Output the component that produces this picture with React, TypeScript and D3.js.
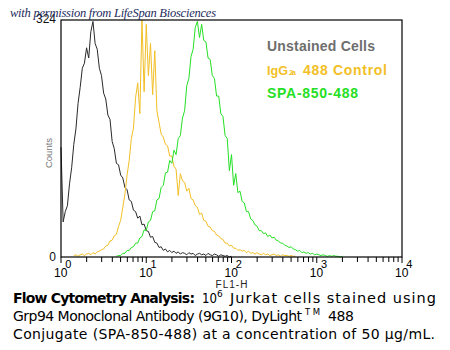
import React, { useEffect, useRef } from "react";
import * as d3 from "d3";

// histogram channels: each channel is 0.025 decade wide on FL1-H
const binWidth = 0.025;

const unstainedStart = 0;
const unstainedCounts = [150, 48, 62, 70, 100, 122, 154, 175, 210, 232, 258, 265, 286, 272, 308, 322, 292, 284, 258, 248, 224, 216, 194, 188, 158, 148, 128, 126, 112, 108, 95, 92, 78, 76, 64, 62, 53, 56, 44, 45, 36, 35, 27, 28, 20, 19, 13, 14, 9, 11, 7, 9, 6, 8, 5, 7, 4, 6, 5, 3, 6, 4, 5, 2, 4, 5, 3, 4, 2, 5, 3, 2, 4, 3, 1, 3, 2, 1, 2, 0, 1];

const isotypeStart = 6;
const isotypeCounts = [2, 3, 1, 3, 4, 2, 4, 5, 3, 6, 4, 7, 8, 10, 11, 15, 16, 22, 23, 29, 31, 42, 50, 68, 86, 112, 132, 162, 176, 218, 238, 196, 324, 226, 318, 248, 292, 222, 282, 200, 184, 168, 164, 154, 152, 138, 138, 124, 120, 84, 114, 104, 102, 90, 94, 80, 78, 70, 68, 58, 60, 50, 49, 42, 41, 36, 35, 30, 29, 25, 24, 19, 19, 15, 16, 12, 12, 9, 10, 8, 9, 6, 8, 5, 6, 4, 6, 4, 3, 5, 3, 4, 2, 3, 4, 2, 3, 1, 3, 2, 2, 1, 2, 1, 1];

const stainedStart = 26;
const stainedCounts = [1, 2, 2, 5, 5, 9, 9, 13, 14, 19, 19, 26, 28, 37, 36, 48, 50, 62, 63, 78, 80, 95, 98, 115, 116, 132, 128, 146, 140, 162, 166, 190, 200, 234, 244, 274, 284, 314, 322, 300, 318, 296, 294, 272, 270, 248, 244, 220, 220, 196, 192, 166, 162, 118, 140, 98, 114, 88, 90, 76, 74, 62, 62, 52, 50, 44, 42, 36, 36, 32, 33, 28, 30, 26, 27, 23, 22, 19, 19, 16, 15, 13, 14, 11, 10, 8, 9, 6, 7, 5, 6, 4, 5, 3, 4, 3, 2, 3, 2, 1, 2, 1, 2, 1, 1, 0, 1];

const decades = [0, 1, 2, 3, 4];
const yMax = 324;

const series = [
  { name: "Unstained Cells", start: unstainedStart, counts: unstainedCounts, color: "#2a2a2a" },
  { name: "IgG2a 488 Control", start: isotypeStart, counts: isotypeCounts, color: "#f2bf26" },
  { name: "SPA-850-488", start: stainedStart, counts: stainedCounts, color: "#25e025" },
];

function App() {
  const chartRef = useRef<SVGSVGElement>(null);

  useEffect(() => {
    drawChart();
  }, []);

  const drawChart = () => {
    const svg = d3.select(chartRef.current);
    svg.selectAll("*").remove();

    const left = 61, right = 402, top = 20, bottom = 257;

    const x = d3.scaleLog().domain([1, 10000]).range([left, right]);
    const y = d3.scaleLinear().domain([0, yMax]).range([bottom, top]);

    // fixed-width text piece
    const piece = (
      txt: string, px: number, py: number, w: number, size: number,
      font: string, color: string, weight = "normal", adjust = "spacing"
    ) =>
      svg
        .append("text")
        .text(txt)
        .attr("x", px)
        .attr("y", py)
        .attr("textLength", w)
        .attr("lengthAdjust", adjust)
        .style("font-family", font)
        .style("font-size", `${size}px`)
        .style("font-weight", weight)
        .attr("fill", color);

    // histograms
    series.forEach((s) => {
      const pts = s.counts.map((c, i) => [Math.pow(10, (s.start + i) * binWidth), c]);
      svg
        .append("path")
        .attr(
          "d",
          d3
            .line<number[]>()
            .x((d) => x(d[0]))
            .y((d) => y(d[1]))(pts)
        )
        .attr("fill", "none")
        .attr("stroke", s.color)
        .attr("stroke-width", 1);
    });

    // frame
    svg
      .append("rect")
      .attr("x", left)
      .attr("y", top)
      .attr("width", right - left)
      .attr("height", bottom - top)
      .attr("fill", "none")
      .attr("stroke", "#000")
      .attr("stroke-width", 1.2);

    // x ticks
    const minor: number[] = [];
    decades.slice(0, -1).forEach((d) => {
      for (let k = 1; k < 10; k++) minor.push(k * Math.pow(10, d));
    });
    minor.push(10000);
    svg
      .append("g")
      .selectAll("line")
      .data(minor)
      .join("line")
      .attr("x1", (d) => x(d))
      .attr("x2", (d) => x(d))
      .attr("y1", bottom)
      .attr("y2", (d) => bottom + (Math.log10(d) % 1 === 0 ? 6 : 5))
      .attr("stroke", "#000")
      .attr("stroke-width", 1);

    const tickLabels = svg
      .append("g")
      .selectAll("text")
      .data(decades)
      .join("text")
      .attr("x", (d) => x(Math.pow(10, d)) - 7)
      .attr("y", 277)
      .style("font-family", "'Liberation Sans', Arial, sans-serif")
      .style("font-size", "12px")
      .attr("fill", "#000");
    tickLabels.append("tspan").text("10");
    tickLabels
      .append("tspan")
      .text((d) => String(d))
      .attr("dx", -2)
      .attr("dy", -9)
      .style("font-size", "11px");

    svg
      .append("text")
      .text("FL1-H")
      .attr("x", 232)
      .attr("y", 288)
      .attr("text-anchor", "middle")
      .style("font-family", "'Liberation Sans', Arial, sans-serif")
      .style("font-size", "10px")
      .style("letter-spacing", "1px")
      .attr("fill", "#222");

    // y labels
    [0, yMax].forEach((v) => {
      svg
        .append("text")
        .text(String(v))
        .attr("x", 56)
        .attr("y", v === 0 ? y(v) + 4 : y(v) + 3)
        .attr("text-anchor", "end")
        .style("font-family", "'Liberation Sans', Arial, sans-serif")
        .style("font-size", "12px")
        .attr("fill", "#111");
    });

    svg
      .append("text")
      .text("Counts")
      .attr("transform", `translate(52,153) rotate(-90)`)
      .attr("text-anchor", "middle")
      .style("font-family", "'Liberation Sans', Arial, sans-serif")
      .style("font-size", "9.5px")
      .attr("fill", "#777");

    // watermark (drawn over the plot like in the source image)
    piece("with permission from LifeSpan Biosciences", 10, 17, 206, 12.5,
      "'Liberation Serif', serif", "#1d2b5e").style("font-style", "italic");

    // legend
    const legendFont = "'Liberation Sans', Arial, sans-serif";
    piece(series[0].name, 267, 51, 108, 14, legendFont, "#6e6e6e", "bold");
    piece("IgG", 267, 75, 21, 13.5, legendFont, series[1].color, "bold", "spacingAndGlyphs");
    piece("2a", 289, 75, 7, 8, legendFont, series[1].color, "bold");
    piece("488 Control", 303, 75, 84, 14, legendFont, series[1].color, "bold");
    piece(series[2].name, 267, 98, 91, 14, legendFont, series[2].color, "bold");

    // caption
    const capFont = "'DejaVu Sans', Verdana, sans-serif";
    piece("Flow Cytometry Analysis:", 13, 303, 182, 14, capFont, "#000", "bold");
    piece("10", 202, 303, 15, 14, capFont, "#000", "normal", "spacingAndGlyphs");
    piece("6", 217, 297, 6, 9, capFont, "#000");
    piece("Jurkat cells stained using", 230, 303, 206, 14.5, capFont, "#000");
    piece("Grp94 Monoclonal Antibody (9G10), DyLight", 13, 321, 289, 14, capFont, "#000");
    piece("TM", 305, 315, 15, 8.5, capFont, "#000");
    piece("488", 328, 321, 26, 14, capFont, "#000");
    piece("Conjugate (SPA-850-488) at a concentration of 50 \u00b5g/mL.", 13, 339, 422, 14, capFont, "#000");
  };

  return (
    <div style={{ position: "absolute", left: 0, top: 0, background: "#fff" }}>
      <svg ref={chartRef} width={450} height={350} style={{ display: "block" }}></svg>
    </div>
  );
}

export default App;
